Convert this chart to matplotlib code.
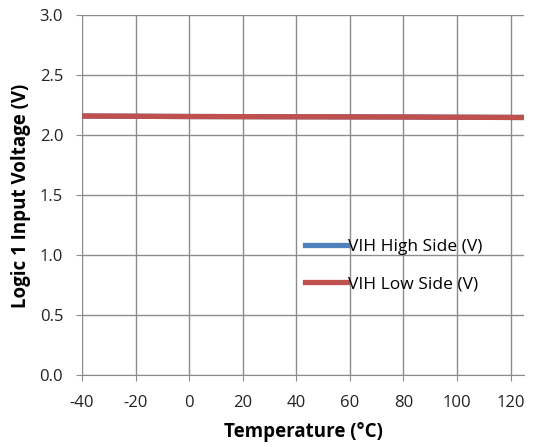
import matplotlib
matplotlib.use("Agg")
import matplotlib.pyplot as plt
from matplotlib.ticker import FixedLocator

plt.rcParams['font.family'] = ['Open Sans', 'DejaVu Sans']
plt.rcParams['axes.unicode_minus'] = False

temps = [-40, -20, 0, 20, 40, 60, 80, 100, 125]
vih_high = [2.158, 2.156, 2.154, 2.153, 2.152, 2.151, 2.150, 2.148, 2.146]
vih_low = [2.158, 2.156, 2.154, 2.153, 2.152, 2.151, 2.150, 2.148, 2.146]
x_ticks = [-40, -20, 0, 20, 40, 60, 80, 100, 120]
y_ticks = [0.0, 0.5, 1.0, 1.5, 2.0, 2.5, 3.0]

fig = plt.figure(figsize=(5.38, 4.47), dpi=100)
ax = fig.add_axes([82/538, 1 - 375/447, (524 - 82)/538, (375 - 15)/447])

ax.plot(temps, vih_high, color='#4F81BD', lw=3.8, label='VIH High Side (V)', zorder=3)
ax.plot(temps, vih_low, color='#C0504D', lw=3.8, label='VIH Low Side (V)', zorder=4)

ax.set_xlim(-40, 125)
ax.set_ylim(0, 3.0)
ax.xaxis.set_major_locator(FixedLocator(x_ticks))
ax.yaxis.set_major_locator(FixedLocator(y_ticks))
ax.set_yticklabels([f'{v:.1f}' for v in y_ticks])
ax.grid(True, color='#8c8c8c', lw=1.0, zorder=1)
for s in ['top', 'right', 'left']:
    ax.spines[s].set_visible(False)
ax.spines['bottom'].set_color('#8c8c8c')
ax.tick_params(axis='both', length=4.5, color='#8c8c8c', labelsize=12, labelcolor='#222222')
ax.tick_params(axis='y', pad=9)
ax.tick_params(axis='x', pad=10)

ax.set_xlabel('Temperature (°C)', fontsize=13.5, fontweight='bold')
ax.set_ylabel('Logic 1 Input Voltage (V)', fontsize=13.5, fontweight='bold')
ax.xaxis.set_label_coords(0.5, -(432 - 375) / 360)
ax.yaxis.set_label_coords(-(82 - 21) / 442, (375 - 196) / 360)
ax.xaxis.label.set_va('center')
ax.yaxis.label.set_va('center')

leg = ax.legend(loc='upper left', bbox_to_anchor=((305 - 82) / 442, (375 - 239) / 360), frameon=False,
                fontsize=12.5, handlelength=2.4, handletextpad=0.1, labelspacing=1.2,
                borderaxespad=0, borderpad=0)

fig.savefig('out.png', dpi=100)
